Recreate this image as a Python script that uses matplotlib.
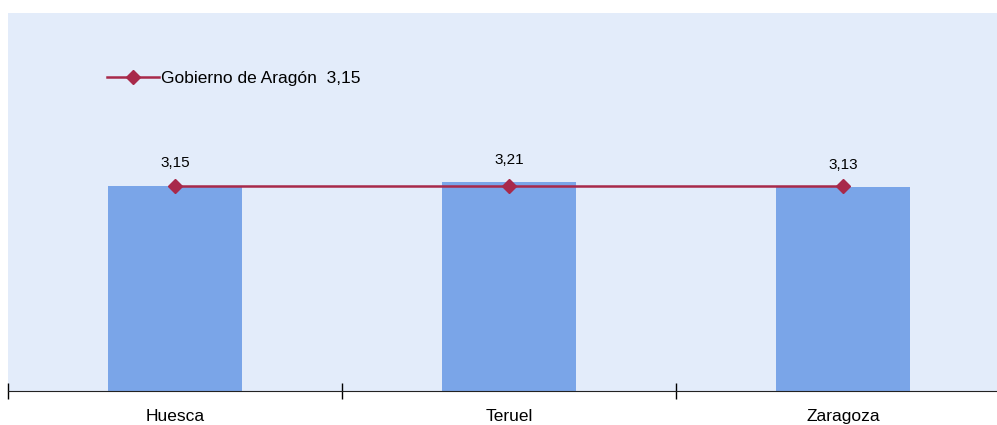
import numpy as np
import matplotlib.pyplot as plt

plt.rcParams['font.family'] = ['Liberation Sans', 'DejaVu Sans']

# datos
provincias = ['Huesca', 'Teruel', 'Zaragoza']
valores = [3.15, 3.21, 3.13]
media_gobierno = [3.15, 3.15, 3.15]
etiquetas = ['3,15', '3,21', '3,13']
leyenda = 'Gobierno de Aragón  3,15'

fig = plt.figure(figsize=(9.97, 4.25), dpi=100)
ax = fig.add_axes([8/997, 1 - 391/425, 989/997, 378/425])
ax.set_facecolor('#E3ECFA')

x = np.arange(len(provincias))
ax.bar(x, valores, width=0.40, color='#7AA5E8', zorder=2)
ax.plot(x, media_gobierno, color='#A8294A', lw=1.8, marker='D', ms=7.5,
        label=leyenda, zorder=3)

for xi, v, t in zip(x, valores, etiquetas):
    ax.annotate(t, (xi, v), xytext=(0, 11), textcoords='offset points',
                ha='center', va='bottom', fontsize=11)

ax.set_yticks([])
ax.set_xticks(x)
ax.set_xticklabels(provincias, fontsize=12.5)
ax.tick_params(axis='x', which='major', length=0, pad=13)
ax.set_xticks([-0.5, 0.5, 1.5, 2.5], minor=True)
ax.tick_params(axis='x', which='minor', direction='inout', length=11, width=1)
ax.set_xlim(-0.5, 989/334 - 0.5)
ax.set_ylim(0, 5.80)
for s in ['top', 'right', 'left']:
    ax.spines[s].set_visible(False)
ax.spines['bottom'].set_color('#222222')

ax.legend(loc='upper left', bbox_to_anchor=(0.084, 0.887), frameon=False,
          fontsize=12.5, handlelength=3.0, handletextpad=0.15)

fig.savefig('out.png', dpi=100)
